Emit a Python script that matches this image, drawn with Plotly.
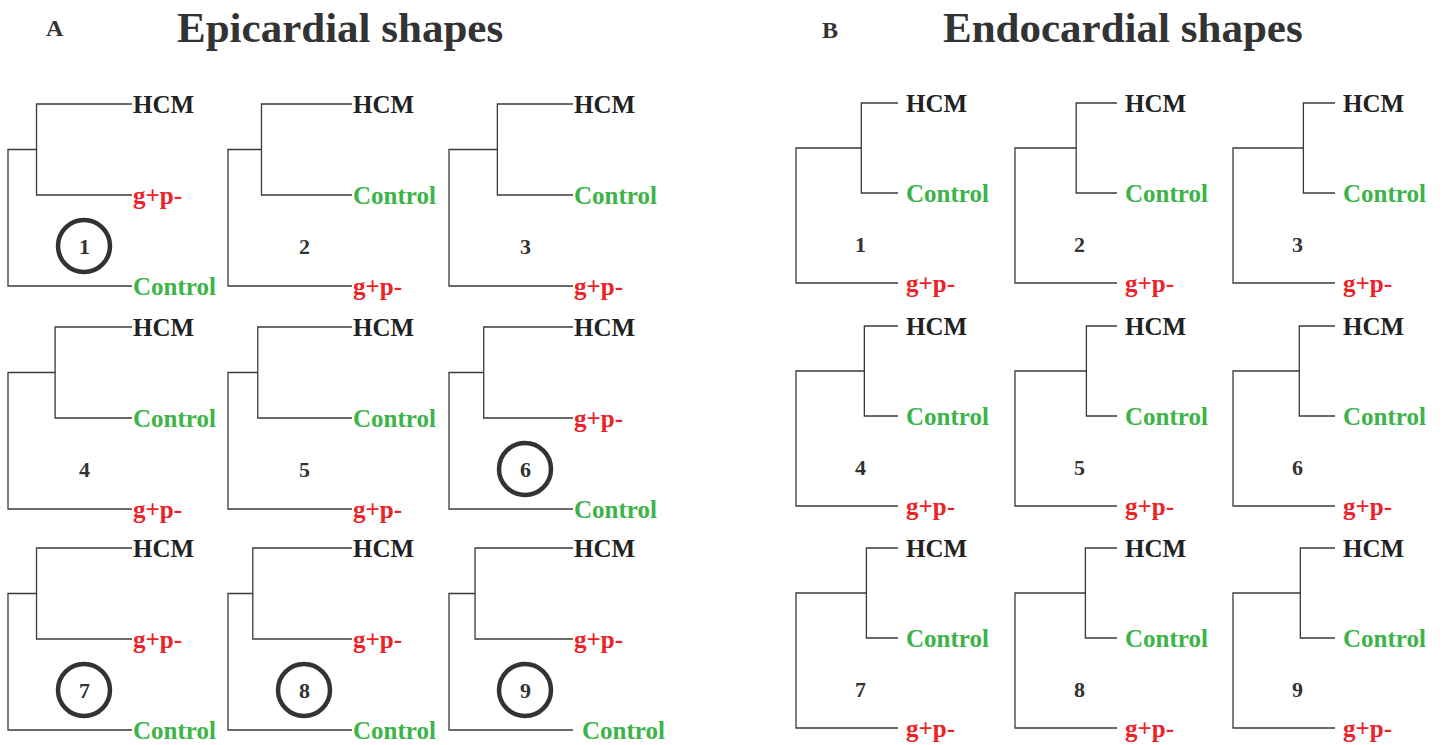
import plotly.graph_objects as go

# ---------------- data ----------------
panel_titles = ["Epicardial shapes", "Endocardial shapes"]
panel_letters = ["A", "B"]
tree_ids = [1, 2, 3, 4, 5, 6, 7, 8, 9]

# leaf order (top, middle, bottom) for each of the 9 trees
epi_leaves = [
    ["HCM", "g+p-", "Control"],
    ["HCM", "Control", "g+p-"],
    ["HCM", "Control", "g+p-"],
    ["HCM", "Control", "g+p-"],
    ["HCM", "Control", "g+p-"],
    ["HCM", "g+p-", "Control"],
    ["HCM", "g+p-", "Control"],
    ["HCM", "g+p-", "Control"],
    ["HCM", "g+p-", "Control"],
]
endo_leaves = [["HCM", "Control", "g+p-"]] * 9

# height of first merge relative to root height (root = 1)
epi_merge = [0.77, 0.73, 0.61, 0.62, 0.76, 0.72, 0.77, 0.80, 0.79]
endo_merge = [0.36, 0.40, 0.31, 0.33, 0.30, 0.35, 0.31, 0.31, 0.34]

# circled (highlighted) trees
epi_circled = [True, False, False, False, False, True, True, True, True]
endo_circled = [False] * 9

label_colors = {"HCM": "#222222", "g+p-": "#ec2227", "Control": "#3cb449"}

# ---------------- layout (pixel frame) ----------------
W, H = 1445, 745
FONT = "Liberation Serif, Times New Roman, serif"
LINE = "#3a3a3a"

panels = [
    dict(leaves=epi_leaves, merge=epi_merge, circled=epi_circled,
         col_x=[8, 228, 449], width=124, row_y=[104, 327, 548], gap=91,
         label_dx=0, num_dx=76, num_dy=142,
         title_x=340, title_y=27, letter_x=55, letter_y=28),
    dict(leaves=endo_leaves, merge=endo_merge, circled=endo_circled,
         col_x=[796, 1015, 1233], width=102, row_y=[103, 326, 548], gap=90,
         label_dx=7, num_dx=64, num_dy=141,
         title_x=1123, title_y=27, letter_x=830, letter_y=30),
]

fig = go.Figure()
annotations = []
shapes = []

for p_i, P in enumerate(panels):
    annotations.append(dict(x=P["title_x"], y=P["title_y"], text="<b>" + panel_titles[p_i] + "</b>",
                            showarrow=False, xanchor="center", yanchor="middle",
                            font=dict(family=FONT, size=43, color="#333333")))
    annotations.append(dict(x=P["letter_x"], y=P["letter_y"], text="<b>" + panel_letters[p_i] + "</b>",
                            showarrow=False, xanchor="center", yanchor="middle",
                            font=dict(family=FONT, size=24, color="#333333")))
    for k, tid in enumerate(tree_ids):
        r, c = divmod(k, 3)
        x_root = P["col_x"][c]
        x_leaf = x_root + P["width"]
        x_in = x_leaf - P["merge"][k] * P["width"]
        y0 = P["row_y"][r]
        ys = [y0, y0 + P["gap"], y0 + 2 * P["gap"]]
        y_in = (ys[0] + ys[1]) / 2
        xs_line = [x_leaf, x_in, x_in, x_leaf, None,
                   x_in, x_root, x_root, x_leaf]
        ys_line = [ys[0], ys[0], ys[1], ys[1], None,
                   y_in, y_in, ys[2], ys[2]]
        fig.add_trace(go.Scatter(x=xs_line, y=ys_line, mode="lines",
                                 line=dict(color=LINE, width=1.3),
                                 hoverinfo="skip", showlegend=False))
        for j, lab in enumerate(P["leaves"][k]):
            dx = P["label_dx"]
            if p_i == 0 and tid == 9 and lab == "Control":
                dx = 8
            annotations.append(dict(x=x_leaf + dx, y=ys[j], text="<b>" + lab + "</b>",
                                    showarrow=False, xanchor="left", yanchor="middle",
                                    borderpad=0,
                                    font=dict(family=FONT, size=25, color=label_colors[lab])))
        nx = x_root + P["num_dx"]
        ny = y0 + P["num_dy"]
        annotations.append(dict(x=nx, y=ny, text="<b>" + str(tid) + "</b>",
                                showarrow=False, xanchor="center", yanchor="middle",
                                font=dict(family=FONT, size=22, color="#333333")))
        if P["circled"][k]:
            rad = 26
            shapes.append(dict(type="circle", xref="x", yref="y",
                               x0=nx - rad, x1=nx + rad, y0=ny - rad, y1=ny + rad,
                               line=dict(color="#333333", width=4.5)))

fig.update_layout(
    width=W, height=H,
    margin=dict(l=0, r=0, t=0, b=0),
    paper_bgcolor="white", plot_bgcolor="white",
    xaxis=dict(range=[0, W], visible=False, fixedrange=True),
    yaxis=dict(range=[H, 0], visible=False, fixedrange=True),
    annotations=annotations, shapes=shapes,
)

fig.write_html("out.html")
